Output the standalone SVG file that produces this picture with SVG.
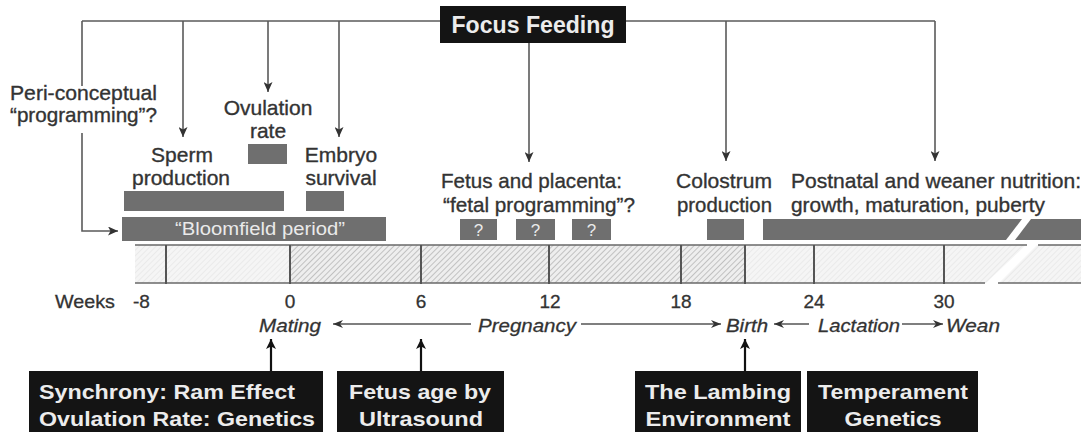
<svg xmlns="http://www.w3.org/2000/svg" width="1081" height="432" viewBox="0 0 1081 432">
<style>
text{font-family:"Liberation Sans",Arial,Helvetica,sans-serif}
.lbl{font-size:21px;fill:#333;stroke:#333;stroke-width:0.35}
.wk{font-size:19px;fill:#333;stroke:#333;stroke-width:0.3}
.it{font-size:19px;fill:#333;font-style:italic;stroke:#333;stroke-width:0.3}
.bx{fill:#141414}
.bt{font-size:21px;font-weight:bold;fill:#ececec}
.bar{fill:#6f6f6f}
.wt{fill:#eaeaea}
.conn{fill:none;stroke:#5a5a5a;stroke-width:1.6}
.up{fill:none;stroke:#111;stroke-width:2.2}
.tl{fill:none;stroke:#555;stroke-width:1.3}
.band{fill:none;stroke:#6a6a6a;stroke-width:1.6}
.tick{stroke:#555;stroke-width:2}
</style>
<defs>
<marker id="ah" markerUnits="userSpaceOnUse" markerWidth="10" markerHeight="9" refX="10" refY="4.5" orient="auto">
<path d="M0,0 L10,4.5 L0,9 L2.5,4.5 z" fill="#333"/>
</marker>
<marker id="ahb" markerUnits="userSpaceOnUse" markerWidth="10" markerHeight="10" refX="10" refY="5" orient="auto">
<path d="M0,0 L10,5 L0,10 L2.5,5 z" fill="#111"/>
</marker>
<marker id="ahs" markerUnits="userSpaceOnUse" markerWidth="10" markerHeight="8" refX="10" refY="4" orient="auto">
<path d="M0,0 L10,4 L0,8 L3,4 z" fill="#333"/>
</marker>
<pattern id="hatch" width="4" height="4" patternUnits="userSpaceOnUse" patternTransform="rotate(45)">
<rect width="4" height="4" fill="#eeeeee"/>
<line x1="0" y1="0" x2="0" y2="4" stroke="#a9a9a9" stroke-width="1.3"/>
</pattern>
<pattern id="light" width="4" height="4" patternUnits="userSpaceOnUse" patternTransform="rotate(45)">
<rect width="4" height="4" fill="#f5f5f5"/>
<line x1="0" y1="0" x2="0" y2="4" stroke="#e0e0e0" stroke-width="1"/>
</pattern>
</defs>
<rect width="1081" height="432" fill="#ffffff"/>

<g id="timeline">
<rect x="135" y="245" width="154" height="38" fill="url(#light)"/>
<rect x="289" y="245" width="456" height="38" fill="url(#hatch)"/>
<rect x="745" y="245" width="336" height="38" fill="url(#light)"/>
<polygon points="1027,244 1038,244 998,284 985,284" fill="#ffffff"/>
<path class="band" d="M135,245 H1027 M1038,245 H1081 M135,283 H985 M998,283 H1081"/>
<line class="tick" x1="166" y1="245" x2="166" y2="284"/>
<line class="tick" x1="290" y1="245" x2="290" y2="284"/>
<line class="tick" x1="421" y1="245" x2="421" y2="284"/>
<line class="tick" x1="549" y1="245" x2="549" y2="284"/>
<line class="tick" x1="681" y1="245" x2="681" y2="284"/>
<line class="tick" x1="745" y1="245" x2="745" y2="284"/>
<line class="tick" x1="814" y1="245" x2="814" y2="284"/>
<line class="tick" x1="944" y1="245" x2="944" y2="284"/>
<text class="wk" x="55" y="308" textLength="60" lengthAdjust="spacingAndGlyphs">Weeks</text>
<text class="wk" x="133" y="308">-8</text>
<text class="wk" x="290" y="308" text-anchor="middle">0</text>
<text class="wk" x="421" y="308" text-anchor="middle">6</text>
<text class="wk" x="550" y="308" text-anchor="middle">12</text>
<text class="wk" x="681" y="308" text-anchor="middle">18</text>
<text class="wk" x="814" y="308" text-anchor="middle">24</text>
<text class="wk" x="944" y="308" text-anchor="middle">30</text>
<text class="it" x="259" y="332" textLength="62" lengthAdjust="spacingAndGlyphs">Mating</text>
<text class="it" x="478" y="332" textLength="98" lengthAdjust="spacingAndGlyphs">Pregnancy</text>
<text class="it" x="726" y="332" textLength="42" lengthAdjust="spacingAndGlyphs">Birth</text>
<text class="it" x="818" y="332" textLength="82" lengthAdjust="spacingAndGlyphs">Lactation</text>
<text class="it" x="946" y="332" textLength="54" lengthAdjust="spacingAndGlyphs">Wean</text>
</g>

<g id="connectors">
<path class="conn" d="M82,21 H935"/>
<path class="conn" d="M82,21 V86"/>
<path class="conn" d="M82,133 V231 H118" marker-end="url(#ah)"/>
<path class="conn" d="M183,21 V137" marker-end="url(#ah)"/>
<path class="conn" d="M268,21 V92" marker-end="url(#ah)"/>
<path class="conn" d="M339,21 V137" marker-end="url(#ah)"/>
<path class="conn" d="M529,43 V162" marker-end="url(#ah)"/>
<path class="conn" d="M726,21 V161" marker-end="url(#ah)"/>
<path class="conn" d="M935,21 V161" marker-end="url(#ah)"/>
<path class="up" d="M271,371 V339" marker-end="url(#ahb)"/>
<path class="up" d="M421,371 V339" marker-end="url(#ahb)"/>
<path class="up" d="M745,371 V339" marker-end="url(#ahb)"/>
<path class="tl" d="M471,324 H333" marker-end="url(#ahs)"/>
<path class="tl" d="M581,324 H721" marker-end="url(#ahs)"/>
<path class="tl" d="M809,324 H774" marker-end="url(#ahs)"/>
<path class="tl" d="M902,324 H943" marker-end="url(#ahs)"/>
</g>

<g id="focus-feeding">
<rect class="bx" x="440" y="6" width="186" height="37"/>
<text class="bt" x="533" y="33" text-anchor="middle" style="font-size:23px" textLength="163" lengthAdjust="spacingAndGlyphs">Focus Feeding</text>
</g>

<g id="peri-conceptual">
<text class="lbl" x="10" y="100" textLength="147" lengthAdjust="spacingAndGlyphs">Peri-conceptual</text>
<text class="lbl" x="10" y="122" textLength="147" lengthAdjust="spacingAndGlyphs">“programming”?</text>
</g>

<g id="ovulation-rate">
<text class="lbl" x="268" y="115" text-anchor="middle">Ovulation</text>
<text class="lbl" x="268" y="138" text-anchor="middle">rate</text>
<rect class="bar" x="248" y="144" width="39" height="20"/>
</g>

<g id="sperm-production">
<text class="lbl" x="182" y="162" text-anchor="middle">Sperm</text>
<text class="lbl" x="181" y="185" text-anchor="middle">production</text>
<rect class="bar" x="124" y="191" width="160" height="20"/>
</g>

<g id="embryo-survival">
<text class="lbl" x="341" y="162" text-anchor="middle">Embryo</text>
<text class="lbl" x="341" y="185" text-anchor="middle">survival</text>
<rect class="bar" x="306" y="191" width="38" height="20"/>
</g>

<g id="bloomfield-period">
<rect class="bar" x="122" y="217" width="264" height="24"/>
<text class="wt" x="175" y="235" style="font-size:18px" textLength="170" lengthAdjust="spacingAndGlyphs">“Bloomfield period”</text>
</g>

<g id="fetus-placenta">
<text class="lbl" x="441" y="188" textLength="181" lengthAdjust="spacingAndGlyphs">Fetus and placenta:</text>
<text class="lbl" x="443" y="212" textLength="192" lengthAdjust="spacingAndGlyphs">“fetal programming”?</text>
<rect class="bar" x="460" y="219" width="37" height="21"/>
<rect class="bar" x="516" y="219" width="39" height="21"/>
<rect class="bar" x="572" y="219" width="39" height="21"/>
<text class="wt" x="478.5" y="236" text-anchor="middle" style="font-size:17px">?</text>
<text class="wt" x="535.5" y="236" text-anchor="middle" style="font-size:17px">?</text>
<text class="wt" x="591.5" y="236" text-anchor="middle" style="font-size:17px">?</text>
</g>

<g id="colostrum-production">
<text class="lbl" x="676" y="188" textLength="96" lengthAdjust="spacingAndGlyphs">Colostrum</text>
<text class="lbl" x="677" y="212" textLength="95" lengthAdjust="spacingAndGlyphs">production</text>
<rect class="bar" x="707" y="219" width="37" height="21"/>
</g>

<g id="postnatal-nutrition">
<text class="lbl" x="791" y="188" textLength="290" lengthAdjust="spacingAndGlyphs">Postnatal and weaner nutrition:</text>
<text class="lbl" x="791" y="212" textLength="254" lengthAdjust="spacingAndGlyphs">growth, maturation, puberty</text>
<polygon class="bar" points="763,219 1022,219 1006,240 763,240"/>
<polygon class="bar" points="1031,219 1081,219 1081,240 1015,240"/>
</g>

<g id="synchrony">
<rect class="bx" x="29" y="371" width="294" height="61"/>
<text class="bt" x="39" y="399" textLength="256" lengthAdjust="spacingAndGlyphs">Synchrony: Ram Effect</text>
<text class="bt" x="39" y="426" textLength="276" lengthAdjust="spacingAndGlyphs">Ovulation Rate: Genetics</text>
</g>

<g id="fetus-age">
<rect class="bx" x="337" y="371" width="167" height="61"/>
<text class="bt" x="420" y="399" text-anchor="middle" textLength="142" lengthAdjust="spacingAndGlyphs">Fetus age by</text>
<text class="bt" x="421" y="426" text-anchor="middle" textLength="124" lengthAdjust="spacingAndGlyphs">Ultrasound</text>
</g>

<g id="lambing-environment">
<rect class="bx" x="635" y="371" width="166" height="61"/>
<text class="bt" x="718" y="399" text-anchor="middle" textLength="146" lengthAdjust="spacingAndGlyphs">The Lambing</text>
<text class="bt" x="718" y="426" text-anchor="middle" textLength="145" lengthAdjust="spacingAndGlyphs">Environment</text>
</g>

<g id="temperament-genetics">
<rect class="bx" x="807" y="371" width="171" height="61"/>
<text class="bt" x="893" y="399" text-anchor="middle" textLength="150" lengthAdjust="spacingAndGlyphs">Temperament</text>
<text class="bt" x="893" y="426" text-anchor="middle" textLength="97" lengthAdjust="spacingAndGlyphs">Genetics</text>
</g>
</svg>
